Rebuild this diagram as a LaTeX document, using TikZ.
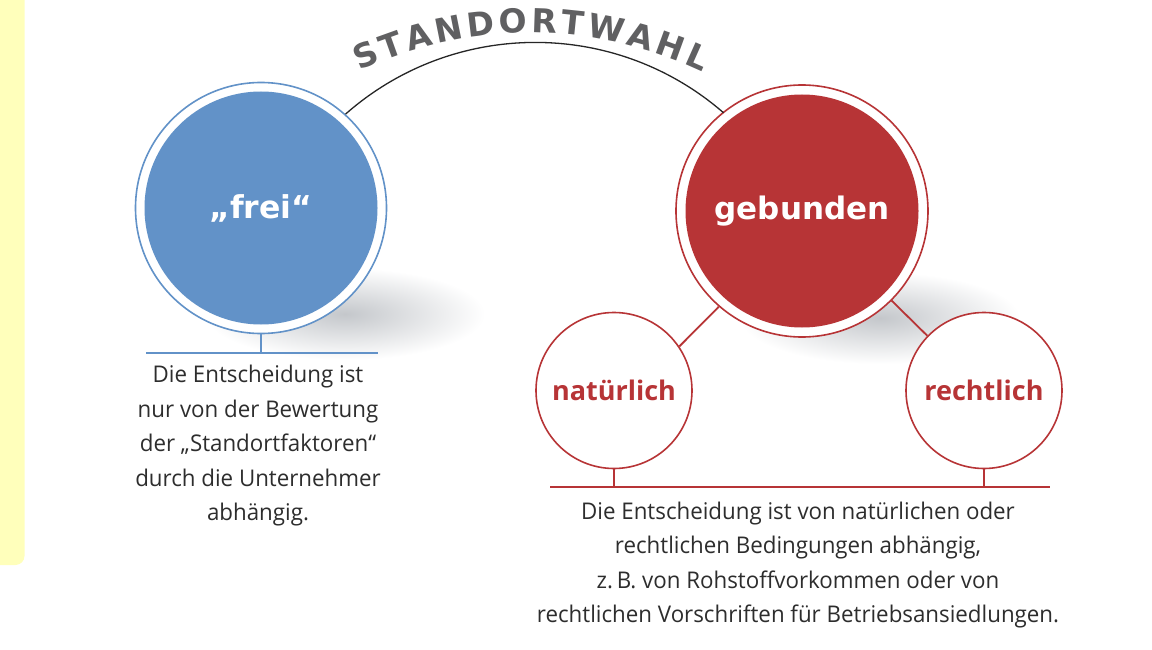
\documentclass[tikz,border=0pt]{standalone}
\usepackage{fontspec}
\setmainfont{Open Sans}
\newfontfamily\bodyfont[FakeStretch=0.97]{Open Sans}
\newfontfamily\lblfont{Open Sans}
\newfontfamily\heavyfont{DejaVu Sans}
\usetikzlibrary{calc}
\definecolor{fblue}{RGB}{98,146,200}
\definecolor{gred}{RGB}{183,52,54}
\definecolor{tgray}{RGB}{96,96,98}
\definecolor{yelbar}{RGB}{255,255,187}
\definecolor{btext}{RGB}{45,45,45}
\definecolor{shadowgray}{RGB}{196,199,203}
\begin{document}
\begin{tikzpicture}[x=1pt,y=1pt,
  ring/.style={circle, line width=1.6pt, fill=white, inner sep=0pt, minimum size=#1},
  core/.style={circle, inner sep=0pt, minimum size=233pt, text=white},
  smallc/.style={circle, draw=gred, line width=1.6pt, fill=white, minimum size=156pt, inner sep=0pt, text=gred, font=\lblfont\bfseries\fontsize{27}{27}\selectfont},
  body/.style={align=center, text=btext, font=\bodyfont\fontsize{23}{34.5}\selectfont},
  conn/.style={line width=1.8pt},
  shadowc/.style={inner color=shadowgray, outer color=white},
  titleletter/.style={anchor=base, inner sep=0pt, text=tgray, font=\heavyfont\bfseries\fontsize{33}{33}\selectfont}
]
\useasboundingbox (0,0) rectangle (1152,-650);
\fill[white] (0,0) rectangle (1152,-650);
\fill[fill=yelbar, rounded corners=9pt] (-12,12) rectangle (24.5,-565);
% shadows
\shade[shadowc] (345,-314) ellipse [x radius=140, y radius=46];
\shade[shadowc] (880,-318) ellipse [x radius=140, y radius=46];
% main circles
\node[ring=251pt, draw=fblue] (frei) at (261,-208) {};
\node[core, fill=fblue, font=\heavyfont\bfseries\fontsize{31.5}{31.5}\selectfont] (freic) at (frei.center) {„frei“};
\node[ring=252pt, draw=gred] (gb) at (802,-211) {};
\node[core, fill=gred, font=\heavyfont\bfseries\fontsize{31}{31}\selectfont] (gbc) at (gb.center) {gebunden};
\node[smallc] (nat) at (614,-390.5) {natürlich};
\node[smallc] (rec) at (984,-390.5) {rechtlich};
% arc
\draw[line width=1.3pt, black!85] (frei.48) arc[start angle=131.4, end angle=49, radius=287];
% title
\coordinate (tc) at (530,-433);
\foreach \ch/\a [count=\i] in {S/113.50,T/109.65,A/105.68,N/101.35,D/96.88,O/92.38,R/88.01,T/84.05,W/79.30,A/74.34,H/70.01,L/66.00}
  \node[titleletter, rotate=\a-90] (t\i) at ($(tc)+(\a:400)$) {\ch};
% connectors
\draw[gred, conn] (gb.-131) -- (nat.34);
\draw[gred, conn] (gb.-45) -- (rec.136);
\coordinate (fl) at (146,-353);
\coordinate (fr) at (378,-353);
\draw[fblue, conn] (frei.south) -- (frei.south |- fl);
\draw[fblue, conn] (fl) -- (fr);
\coordinate (gl) at (550,-487);
\coordinate (gr) at (1050,-487);
\draw[gred, conn] (nat.south) -- (nat.south |- gl);
\draw[gred, conn] (rec.south) -- (rec.south |- gl);
\draw[gred, conn] (gl) -- (gr);
% texts
\node[body] (ftext) at (258,-446) {Die Entscheidung ist\\nur von der Bewertung\\der „Standortfaktoren“\\durch die Unternehmer\\abhängig.};
\node[body] (gtext) at (798,-565) {Die Entscheidung ist von natürlichen oder\\rechtlichen Bedingungen abhängig,\\z.\,B. von Rohstoffvorkommen oder von\\rechtlichen Vorschriften für Betriebsansiedlungen.};
\end{tikzpicture}
\end{document}
